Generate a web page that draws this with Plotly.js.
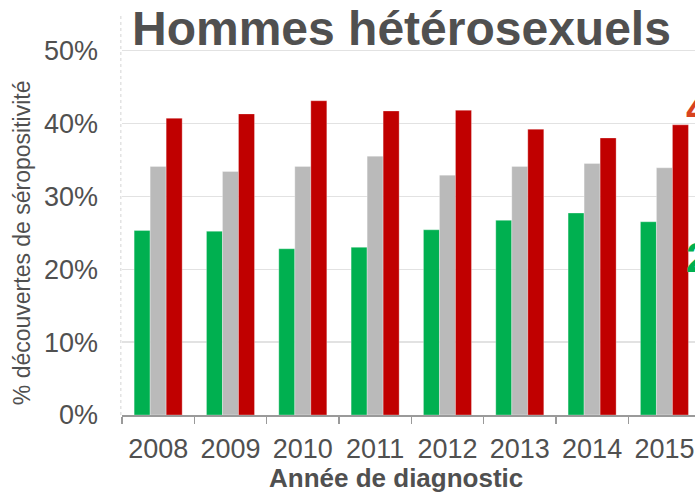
<!DOCTYPE html>
<html>
<head>
<meta charset="utf-8">
<script src="https://cdn.plot.ly/plotly-3.0.1.min.js"></script>
<style>
html, body { margin: 0; padding: 0; overflow: hidden; background: #fff; }
#chart { width: 695px; height: 494px; }
</style>
</head>
<body>
<div id="chart"></div>
<script>
const years = ['2008', '2009', '2010', '2011', '2012', '2013', '2014', '2015'];
const seriesGreen = [25.3, 25.2, 22.8, 23.0, 25.4, 26.7, 27.7, 26.5];
const seriesGray = [34.1, 33.4, 34.1, 35.5, 32.9, 34.1, 34.5, 33.9];
const seriesRed = [40.7, 41.3, 43.1, 41.7, 41.8, 39.2, 38.0, 39.8];
const yTickVals = [0, 10, 20, 30, 40, 50];
const yTickText = ['0%', '10%', '20%', '30%', '40%', '50%'];
const titleText = 'Hommes hétérosexuels';
const xTitleText = 'Année de diagnostic';
const yTitleText = '% découvertes de séropositivité';
const sideLabelRed = '40%';
const sideLabelGreen = '27%';

const W = 695, H = 494;
const L = 122, R = 0, T = 14, B = 78.5;
const plotW = W - L - R, plotH = H - T - B;
const catW = 72.325;
const px = x => (x - L) / plotW;
const py = y => (H - B - y) / plotH;

const txt = '#505050';
const edge = {width: 0.6, color: 'rgba(255,255,255,0.5)'};

const traces = [
  {type: 'bar', x: years, y: seriesGreen, marker: {color: '#00B050', line: edge}, name: 'a', hoverinfo: 'y'},
  {type: 'bar', x: years, y: seriesGray, marker: {color: '#BABABA', line: edge}, name: 'b', hoverinfo: 'y'},
  {type: 'bar', x: years, y: seriesRed, marker: {color: '#C00000', line: edge}, name: 'c', hoverinfo: 'y'}
];

const layout = {
  width: W, height: H,
  margin: {l: L, r: R, t: T, b: B, pad: 0},
  paper_bgcolor: '#fff', plot_bgcolor: '#fff',
  showlegend: false,
  barmode: 'group', bargap: 0.336, bargroupgap: 0,
  font: {family: 'Liberation Sans, Arial, sans-serif', color: txt},
  xaxis: {
    type: 'category',
    range: [-0.5, -0.5 + plotW / catW],
    showline: true, linecolor: '#9a9a9a', linewidth: 2,
    ticks: 'outside', tickson: 'boundaries', ticklen: 7, tickcolor: '#9a9a9a', tickwidth: 1.5,
    tickfont: {size: 27, color: txt},
    ticklabelstandoff: 9,
    showgrid: false, zeroline: false, fixedrange: true
  },
  yaxis: {
    range: [0, 55],
    tickvals: yTickVals, ticktext: yTickText,
    tickfont: {size: 27, color: txt},
    ticklabelstandoff: 23,
    showgrid: true, gridcolor: '#e2e2e2', gridwidth: 1.3,
    zeroline: false, showline: false, ticks: '', fixedrange: true
  },
  shapes: [
    {type: 'line', xref: 'paper', yref: 'paper', x0: -0.002, x1: -0.002, y0: 0, y1: 1,
     line: {color: '#d4d4d4', width: 1, dash: 'dot'}}
  ],
  annotations: [
    {text: '<b>' + titleText + '</b>', xref: 'paper', yref: 'paper', x: px(401), y: py(29),
     xanchor: 'center', yanchor: 'middle', showarrow: false, font: {size: 48, color: txt}},
    {text: '<b>' + xTitleText + '</b>', xref: 'paper', yref: 'paper', x: px(396), y: py(479),
     xanchor: 'center', yanchor: 'middle', showarrow: false, font: {size: 26, color: txt}},
    {text: yTitleText, xref: 'paper', yref: 'paper', x: px(22), y: py(243.5), textangle: -90,
     xanchor: 'center', yanchor: 'middle', showarrow: false, font: {size: 23, color: txt}},
    {text: '<b>' + sideLabelRed + '</b>', xref: 'paper', yref: 'paper', x: px(684), y: py(108),
     xanchor: 'left', yanchor: 'middle', showarrow: false, font: {size: 43, color: '#D8431F'}},
    {text: '<b>' + sideLabelGreen + '</b>', xref: 'paper', yref: 'paper', x: px(684), y: py(257.6),
     xanchor: 'left', yanchor: 'middle', showarrow: false, font: {size: 43, color: '#00B050'}}
  ]
};

Plotly.newPlot('chart', traces, layout, {displayModeBar: false, staticPlot: true});
</script>
</body>
</html>
